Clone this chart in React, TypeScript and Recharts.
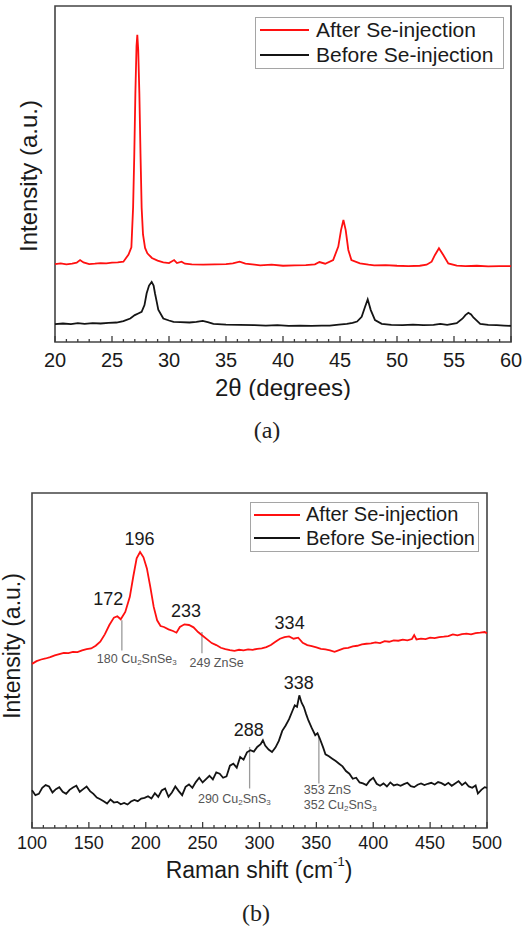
import { Legend, Line, LineChart, ReferenceArea, ReferenceDot, ReferenceLine, XAxis, YAxis } from "recharts"

const RED = "#ff1010"
const BLACK = "#141414"
const FONT = '"Liberation Sans", Arial, sans-serif'

// ---- (a) XRD ----
const xrdTicks = [20, 25, 30, 35, 40, 45, 50, 55, 60]
const xrdTickMarks = [
  20, 21, 22, 23, 24, 25, 26, 27, 28, 29, 30, 31, 32, 33, 34, 35, 36, 37, 38, 39, 40,
  41, 42, 43, 44, 45, 46, 47, 48, 49, 50, 51, 52, 53, 54, 55, 56, 57, 58, 59, 60,
]

const xrdAfter: [number, number][] = [
  [20, 23.2], [20.5, 23.4], [21, 23.1], [21.5, 23.3], [21.9, 23.6], [22.2, 24.4], [22.5, 23.7],
  [23, 23.2], [23.5, 23.3], [24, 23.5], [24.5, 23.4], [25, 23.6], [25.5, 23.7], [26, 23.9],
  [26.45, 26.0], [26.7, 28.2], [26.85, 40], [26.95, 55], [27.05, 74], [27.15, 88], [27.22, 91.4],
  [27.3, 87], [27.4, 74], [27.5, 56], [27.6, 40], [27.72, 32], [27.9, 28], [28.1, 26.4],
  [28.5, 25.0], [29, 24.2], [29.5, 23.7], [30, 23.5], [30.45, 24.4], [30.7, 23.5], [31.1, 23.9],
  [31.4, 23.3], [32, 23.1], [33, 23.0], [34, 23.1], [35, 23.2], [35.6, 23.4], [36.2, 23.9],
  [36.7, 23.3], [37.5, 23.0], [38, 22.8], [39, 23.0], [40, 22.7], [41, 22.8], [42, 22.9],
  [42.8, 23.1], [43.2, 23.8], [43.7, 23.3], [44.4, 24.4], [44.85, 28.4], [45.09, 33.3],
  [45.3, 36.3], [45.5, 33.3], [45.73, 27.4], [46.0, 24.4], [46.75, 23.4], [47.5, 23.0],
  [48, 22.8], [49, 22.9], [50, 22.7], [51, 22.6], [52, 22.7], [52.6, 23.0], [53.04, 23.9],
  [53.33, 25.9], [53.68, 27.9], [54.06, 25.9], [54.5, 23.4], [55.24, 22.7], [56, 22.6],
  [57, 22.7], [58, 22.5], [59, 22.6], [60, 22.6],
]

const xrdBefore: [number, number][] = [
  [20, 5.3], [20.7, 5.5], [21.4, 5.3], [22, 5.6], [22.6, 5.4], [23.3, 5.6], [24, 5.5],
  [24.7, 5.7], [25.4, 5.8], [26, 6.2], [26.6, 7.0], [27.0, 8.0], [27.3, 8.5], [27.6, 9.0],
  [27.85, 11.0], [28.04, 14.5], [28.25, 16.8], [28.48, 17.9], [28.65, 16.8], [28.77, 14.5],
  [28.92, 12.0], [29.06, 9.6], [29.5, 7.0], [30.0, 6.4], [30.4, 6.0], [31.0, 5.9], [31.8, 5.8],
  [32.4, 6.0], [32.96, 6.3], [33.4, 5.9], [33.9, 5.4], [35, 5.2], [36.2, 5.1], [37.5, 5.0],
  [38.5, 4.9], [39.5, 5.0], [40.5, 4.8], [41.5, 4.9], [42.5, 4.8], [43.4, 4.9], [44.1, 4.9],
  [44.9, 5.2], [45.6, 5.4], [46.1, 5.7], [46.5, 6.1], [46.9, 7.5], [47.2, 10.5], [47.43, 12.7],
  [47.7, 9.5], [48.07, 6.5], [48.66, 5.4], [49.5, 5.1], [50.5, 5.0], [51.4, 5.2], [52.3, 5.0],
  [53.2, 5.1], [53.8, 5.4], [54.4, 5.1], [55.24, 5.6], [55.76, 7.0], [56.0, 8.0], [56.26, 8.7],
  [56.5, 8.2], [56.7, 7.3], [57.3, 5.4], [58, 5.1], [58.75, 5.0], [59.4, 4.9], [60, 4.8],
]

// ---- (b) Raman ----
const ramanTicks = [100, 150, 200, 250, 300, 350, 400, 450, 500]
const ramanTickMarks = [
  100, 110, 120, 130, 140, 150, 160, 170, 180, 190, 200, 210, 220, 230, 240, 250, 260, 270, 280,
  290, 300, 310, 320, 330, 340, 350, 360, 370, 380, 390, 400, 410, 420, 430, 440, 450, 460, 470,
  480, 490, 500,
]

const ramanAfter: [number, number][] = [
  [100, 49.0], [104, 49.8], [108, 50.3], [112, 50.6], [116, 51.0], [120, 51.5], [124, 51.9],
  [128, 52.3], [132, 52.2], [136, 52.6], [140, 52.5], [144, 53.0], [148, 53.4], [152, 53.6],
  [156, 54.4], [160, 55.6], [164, 57.8], [168, 60.6], [172, 62.8], [175, 63.2], [178, 62.3],
  [182, 64.5], [186, 69.0], [189, 75.0], [192, 80.5], [195, 82.4], [198, 80.8], [201, 77.5],
  [204, 72.0], [207, 66.0], [210, 62.0], [213, 60.3], [216, 60.0], [220, 59.3], [224, 58.8],
  [227, 58.3], [230, 60.0], [234, 60.8], [238, 60.6], [242, 59.9], [246, 58.5], [250, 57.4],
  [254, 56.3], [258, 55.2], [262, 54.6], [266, 53.8], [270, 53.4], [274, 53.1], [278, 52.9],
  [282, 53.2], [286, 53.0], [290, 53.3], [294, 53.2], [298, 53.5], [302, 53.6], [306, 54.0],
  [310, 54.6], [314, 55.6], [318, 56.5], [322, 57.0], [326, 57.2], [330, 56.5], [334, 56.8],
  [338, 55.3], [342, 54.6], [346, 54.3], [350, 53.9], [354, 53.5], [358, 53.3], [362, 53.0],
  [366, 52.6], [370, 53.1], [374, 53.6], [378, 53.8], [382, 54.2], [386, 54.4], [390, 54.8],
  [394, 55.0], [398, 55.1], [402, 55.4], [406, 55.2], [410, 55.8], [414, 55.6], [418, 56.0],
  [422, 55.9], [426, 56.2], [430, 56.0], [434, 56.4], [436, 57.6], [438, 56.3], [442, 56.5],
  [446, 56.4], [450, 56.8], [454, 56.7], [458, 57.0], [462, 57.1], [466, 57.3], [470, 57.8],
  [474, 57.5], [478, 57.9], [482, 58.0], [486, 57.8], [490, 58.2], [494, 58.3], [498, 58.5],
  [500, 58.1],
]

const ramanBefore: [number, number][] = [
  [100, 11.3], [103, 9.8], [106, 10.2], [109, 12.0], [112, 12.8], [115, 12.4], [118, 10.6],
  [121, 11.6], [124, 12.2], [127, 10.8], [130, 10.2], [133, 11.4], [136, 12.1], [139, 12.6],
  [142, 10.8], [145, 11.6], [148, 12.4], [151, 11.0], [154, 10.2], [157, 9.1], [160, 8.6],
  [163, 8.0], [166, 7.3], [169, 8.5], [172, 7.6], [175, 7.8], [178, 7.1], [181, 7.5], [184, 7.0],
  [187, 7.9], [190, 8.4], [193, 8.0], [196, 8.8], [199, 9.0], [202, 9.5], [205, 8.8], [208, 10.4],
  [211, 9.3], [214, 11.2], [217, 11.8], [220, 9.3], [223, 10.6], [226, 12.4], [229, 11.0],
  [232, 9.8], [235, 12.3], [238, 13.0], [241, 12.0], [244, 13.7], [247, 15.0], [250, 13.6],
  [253, 14.6], [256, 15.6], [259, 14.5], [262, 16.6], [265, 16.2], [268, 15.0], [271, 15.4],
  [274, 18.6], [277, 19.2], [280, 18.0], [283, 21.2], [286, 20.4], [289, 22.6], [292, 23.2],
  [295, 22.8], [298, 24.2], [301, 25.0], [303, 26.2], [305, 24.6], [308, 23.4], [311, 22.7],
  [314, 24.0], [317, 26.0], [320, 29.0], [323, 30.6], [326, 32.5], [329, 35.0], [331, 36.6],
  [333, 36.2], [335, 39.6], [337, 37.4], [339, 36.1], [341, 34.0], [343, 32.1], [346, 29.8],
  [349, 27.7], [351, 28.3], [353, 26.7], [356, 24.0], [358, 22.0], [361, 21.4], [364, 20.7],
  [367, 20.0], [370, 19.2], [373, 18.4], [376, 17.0], [379, 16.2], [382, 14.7], [385, 15.0],
  [388, 13.6], [391, 13.3], [394, 12.8], [397, 14.2], [400, 15.0], [403, 13.2], [406, 12.6],
  [409, 13.3], [412, 12.4], [415, 13.6], [418, 12.7], [421, 13.0], [424, 12.6], [427, 13.1],
  [430, 13.5], [433, 12.5], [436, 12.2], [439, 12.9], [442, 13.3], [445, 12.8], [448, 13.2],
  [451, 13.5], [454, 13.0], [457, 13.7], [460, 13.4], [463, 12.8], [466, 13.5], [469, 12.6],
  [472, 13.3], [475, 14.0], [478, 12.8], [481, 13.6], [484, 12.4], [487, 12.0], [490, 12.7],
  [492, 10.3], [495, 11.4], [498, 12.2], [500, 12.0],
]

// peak numbers written above the curves
const peakText = ["172", "196", "233", "334", "338", "288"]
const peakX = [167, 194.5, 235.5, 326.5, 334.5, 290.5]
const peakY = [68.3, 86.2, 64.7, 61.1, 43.2, 29.2]

// phase assignment markers (gray lines)
const markX = [179, 249.4, 291.3, 352.2]
const markTop = [62.0, 58.5, 24.2, 27.2]
const markBottom = [53.0, 52.2, 11.8, 13.3]

// phase assignment text, "_n" = subscript
const assignText = ["180 Cu_2SnSe_3", "249 ZnSe", "290 Cu_2SnS_3", "353 ZnS", "352 Cu_2SnS_3"]
const assignX = [157, 238.5, 245.9, 338.9, 338.9]
const assignY = [50.4, 49.3, 8.8, 11.4, 6.9]

const toPoints = (pairs: [number, number][]) => pairs.map(([x, y]) => ({ x, y }))

function axisTick(labels: number[], fontSize: number, gap: number) {
  return (props: any) => {
    const { x, y, payload } = props
    const major = labels.includes(payload.value)
    return (
      <g>
        <line x1={x} x2={x} y1={y} y2={y - (major ? 6 : 3)} stroke="#3c3c3c" strokeWidth={1.3} />
        {major && (
          <text x={x} y={y + gap} textAnchor="middle" dominantBaseline="central" fontSize={fontSize} fontFamily={FONT} fill="#1a1a1a">
            {payload.value}
          </text>
        )}
      </g>
    )
  }
}

const yTitle = (cx: number, cy: number, size: number) => () => (
  <text x={cx} y={cy} transform={`rotate(-90 ${cx} ${cy})`} textAnchor="middle" dominantBaseline="central" fontSize={size} fontFamily={FONT} fill="#1a1a1a">
    Intensity (a.u.)
  </text>
)

const centerOf = (props: any) => {
  const vb = props.viewBox || {}
  return { cx: (vb.x || 0) + (vb.width || 0) / 2, cy: (vb.y || 0) + (vb.height || 0) / 2 }
}

const peakLabel = (t: string) => (props: any) => {
  const { cx, cy } = centerOf(props)
  return (
    <text x={cx} y={cy} textAnchor="middle" dominantBaseline="central" fontSize={18} fontFamily={FONT} fill="#1a1a1a">
      {t}
    </text>
  )
}

const assignLabel = (t: string) => (props: any) => {
  const { cx, cy } = centerOf(props)
  const parts = t.split(/_(\d)/)
  return (
    <text x={cx} y={cy} dominantBaseline="central" fontSize={12.5} fontFamily={FONT} fill="#555">
      {parts.map((p, i) =>
        i % 2 ? (
          <tspan key={i} fontSize={8} dy={3}>{p}</tspan>
        ) : (
          <tspan key={i} dy={i ? -3 : 0}>{p}</tspan>
        ),
      )}
    </text>
  )
}

const legendBox = (w: number, h: number, fontSize: number, lineStart: number, lineW: number, textGap: number) => (props: any) => {
  const items = props.payload || []
  return (
    <div style={{ boxSizing: "border-box", width: w, height: h, border: "1.5px solid #a5a5a5", background: "#fff", fontFamily: FONT }}>
      {items.map((it: any) => (
        <div key={it.value} style={{ display: "flex", alignItems: "center", height: (h - 3) / 2 }}>
          <div style={{ marginLeft: lineStart, width: lineW, height: 2, background: it.color }} />
          <span style={{ marginLeft: textGap, fontSize, color: "#1a1a1a", whiteSpace: "nowrap" }}>{it.value}</span>
        </div>
      ))}
    </div>
  )
}

function XrdChart() {
  return (
    <LineChart width={530} height={400} margin={{ top: 6, right: 19, left: 0, bottom: 0 }}>
      <XAxis
        type="number"
        dataKey="x"
        domain={[20, 60]}
        ticks={xrdTickMarks}
        interval={0}
        tick={axisTick(xrdTicks, 20, 18)}
        tickSize={0}
        tickMargin={0}
        axisLine={false}
        height={58}
        label={() => (
          <text x={283} y={387} textAnchor="middle" dominantBaseline="central" fontSize={24} fontFamily={FONT} fill="#1a1a1a">
            2θ (degrees)
          </text>
        )}
      />
      <YAxis type="number" domain={[0, 100]} width={55} tick={false} tickLine={false} axisLine={false} label={yTitle(28.5, 176, 24)} />
      <ReferenceArea x1={20} x2={60} y1={0} y2={100} fill="none" stroke="#444" strokeWidth={1.6} ifOverflow="visible" />
      <Line data={toPoints(xrdAfter)} dataKey="y" name="After Se-injection" stroke={RED} strokeWidth={1.8} dot={false} activeDot={false} isAnimationActive={false} />
      <Line data={toPoints(xrdBefore)} dataKey="y" name="Before Se-injection" stroke={BLACK} strokeWidth={1.8} dot={false} activeDot={false} isAnimationActive={false} />
      <Legend verticalAlign="middle" align="center" wrapperStyle={{ left: 255, top: 17, width: 249, height: 52 }} content={legendBox(249, 52, 21, 4, 49, 7)} />
    </LineChart>
  )
}

function RamanChart() {
  return (
    <LineChart width={530} height={430} margin={{ top: 33, right: 43, left: 0, bottom: 0 }}>
      <XAxis
        type="number"
        dataKey="x"
        domain={[100, 500]}
        ticks={ramanTickMarks}
        interval={0}
        tick={axisTick(ramanTicks, 18, 15)}
        tickSize={0}
        tickMargin={0}
        axisLine={false}
        height={62}
        label={() => (
          <text x={259} y={410} textAnchor="middle" dominantBaseline="central" fontSize={23} fontFamily={FONT} fill="#1a1a1a">
            Raman shift (cm
            <tspan fontSize={13} dy={-9}>-1</tspan>
            <tspan dy={9}>)</tspan>
          </text>
        )}
      />
      <YAxis type="number" domain={[0, 100]} width={32} tick={false} tickLine={false} axisLine={false} label={yTitle(12, 186, 23)} />
      <ReferenceArea x1={100} x2={500} y1={0} y2={100} fill="none" stroke="#444" strokeWidth={1.6} ifOverflow="visible" />
      {markX.map((x, i) => (
        <ReferenceLine key={"m" + i} segment={[{ x, y: markTop[i] }, { x, y: markBottom[i] }]} stroke="#9a9a9a" strokeWidth={1.3} ifOverflow="visible" />
      ))}
      <Line data={toPoints(ramanAfter)} dataKey="y" name="After Se-injection" stroke={RED} strokeWidth={1.8} dot={false} activeDot={false} isAnimationActive={false} />
      <Line data={toPoints(ramanBefore)} dataKey="y" name="Before Se-injection" stroke={BLACK} strokeWidth={1.8} dot={false} activeDot={false} isAnimationActive={false} />
      {peakText.map((t, i) => (
        <ReferenceDot key={"p" + t} x={peakX[i]} y={peakY[i]} r={2} fill="none" stroke="none" ifOverflow="visible" label={peakLabel(t)} />
      ))}
      {assignText.map((t, i) => (
        <ReferenceDot key={"a" + i} x={assignX[i]} y={assignY[i]} r={2} fill="none" stroke="none" ifOverflow="visible" label={assignLabel(t)} />
      ))}
      <Legend verticalAlign="middle" align="center" wrapperStyle={{ left: 250, top: 42, width: 229, height: 50 }} content={legendBox(229, 50, 20, 3, 46, 6)} />
    </LineChart>
  )
}

const caption: React.CSSProperties = {
  position: "absolute",
  width: 60,
  textAlign: "center",
  fontFamily: '"Liberation Serif", "DejaVu Serif", serif',
  fontSize: 24,
  lineHeight: "30px",
  color: "#222",
}

export default function App() {
  return (
    <div style={{ position: "absolute", left: 0, top: 0, width: 530, height: 928, background: "#fff", overflow: "hidden" }}>
      <div style={{ position: "absolute", left: 0, top: 0 }}>
        <XrdChart />
      </div>
      <div style={{ ...caption, left: 237, top: 415 }}>(a)</div>
      <div style={{ position: "absolute", left: 0, top: 460 }}>
        <RamanChart />
      </div>
      <div style={{ ...caption, left: 226, top: 898 }}>(b)</div>
    </div>
  )
}
